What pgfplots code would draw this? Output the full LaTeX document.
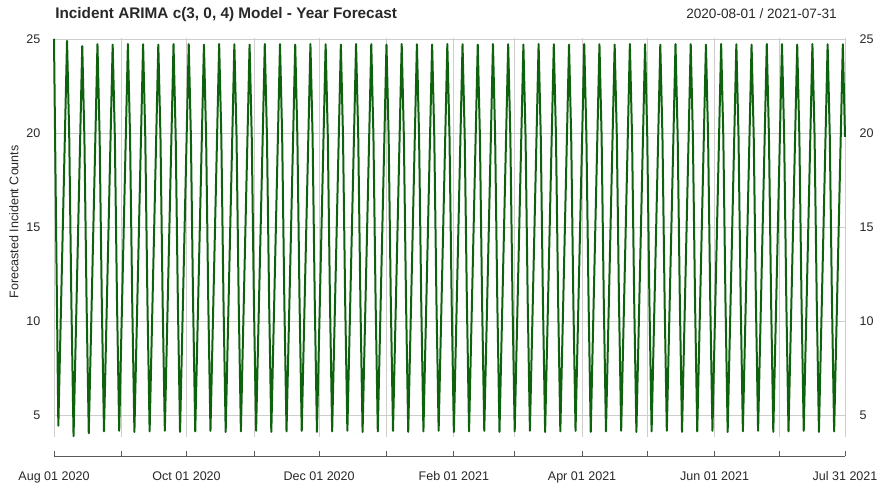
\documentclass[border=0pt]{standalone}
\usepackage{pgfplots}
\pgfplotsset{compat=1.18}
\usepackage{fontspec}
\setmainfont{Liberation Sans}
\definecolor{linegreen}{RGB}{14,98,14}
\definecolor{gridc}{RGB}{208,206,204}
\definecolor{txt}{RGB}{40,40,40}
\definecolor{axc}{RGB}{90,90,90}
\begin{document}
\begin{tikzpicture}
\pgfplotsset{
  base/.style={
    scale only axis, width=593.25pt, height=299.25pt,
    xmin=0, xmax=364, ymin=3.85, ymax=25.05,
    ytick={5,10,15,20,25},
    /pgf/number format/assume math mode=true,
    tick label style={font=\fontsize{9.4}{11}\selectfont, text=txt},
    y axis line style={draw=none}, ytick style={draw=none},
  }
}
\begin{axis}[base,
  clip=false,
  axis x line=bottom, axis y line=left,
  x axis line style={-, draw=axc, line width=0.6pt},
  axis x line shift=14.25pt,
  xtick={0,31,61,92,122,153,184,212,243,273,304,334,364},
  xticklabels={Aug 01 2020,,Oct 01 2020,,Dec 01 2020,,Feb 01 2021,,Apr 01 2021,,Jun 01 2021,,Jul 31 2021},
  xtick align=inside, major tick length=3.4pt,
  xtick style={draw=axc, line width=0.6pt},
  xticklabel style={yshift=-8pt},
  yticklabel style={xshift=-5pt},
  xmajorgrids, ymajorgrids, grid style={gridc, line width=0.6pt},
  ylabel={Forecasted Incident Counts},
  ylabel style={at={(axis description cs:-0.0506,0.539)}, anchor=center, font=\fontsize{9.4}{11}\selectfont, text=txt},
]
\addplot[linegreen, line width=1.5pt, line join=round, no marks]
  table[row sep=\\, header=false, x expr=\coordindex, y index=0] {
25.00\\ 14.60\\ 4.45\\ 9.60\\ 14.70\\ 19.80\\
24.90\\ 19.90\\ 11.00\\ 3.90\\ 9.10\\ 14.30\\ 19.50\\
24.62\\ 19.70\\ 10.90\\ 4.05\\ 9.20\\ 14.40\\ 19.55\\
24.72\\ 19.80\\ 11.00\\ 4.15\\ 9.30\\ 14.45\\ 19.60\\
24.70\\ 19.78\\ 10.98\\ 4.18\\ 9.32\\ 14.46\\ 19.59\\
24.73\\ 19.81\\ 11.02\\ 4.12\\ 9.28\\ 14.44\\ 19.61\\
24.72\\ 19.80\\ 11.00\\ 4.15\\ 9.30\\ 14.45\\ 19.60\\
24.70\\ 19.78\\ 10.98\\ 4.18\\ 9.32\\ 14.46\\ 19.59\\
24.73\\ 19.81\\ 11.02\\ 4.12\\ 9.28\\ 14.44\\ 19.61\\
24.72\\ 19.80\\ 11.00\\ 4.15\\ 9.30\\ 14.45\\ 19.60\\
24.70\\ 19.78\\ 10.98\\ 4.18\\ 9.32\\ 14.46\\ 19.59\\
24.73\\ 19.81\\ 11.02\\ 4.12\\ 9.28\\ 14.44\\ 19.61\\
24.72\\ 19.80\\ 11.00\\ 4.15\\ 9.30\\ 14.45\\ 19.60\\
24.70\\ 19.78\\ 10.98\\ 4.18\\ 9.32\\ 14.46\\ 19.59\\
24.73\\ 19.81\\ 11.02\\ 4.12\\ 9.28\\ 14.44\\ 19.61\\
24.72\\ 19.80\\ 11.00\\ 4.15\\ 9.30\\ 14.45\\ 19.60\\
24.70\\ 19.78\\ 10.98\\ 4.18\\ 9.32\\ 14.46\\ 19.59\\
24.73\\ 19.81\\ 11.02\\ 4.12\\ 9.28\\ 14.44\\ 19.61\\
24.72\\ 19.80\\ 11.00\\ 4.15\\ 9.30\\ 14.45\\ 19.60\\
24.70\\ 19.78\\ 10.98\\ 4.18\\ 9.32\\ 14.46\\ 19.59\\
24.73\\ 19.81\\ 11.02\\ 4.12\\ 9.28\\ 14.44\\ 19.61\\
24.72\\ 19.80\\ 11.00\\ 4.15\\ 9.30\\ 14.45\\ 19.60\\
24.70\\ 19.78\\ 10.98\\ 4.18\\ 9.32\\ 14.46\\ 19.59\\
24.73\\ 19.81\\ 11.02\\ 4.12\\ 9.28\\ 14.44\\ 19.61\\
24.72\\ 19.80\\ 11.00\\ 4.15\\ 9.30\\ 14.45\\ 19.60\\
24.70\\ 19.78\\ 10.98\\ 4.18\\ 9.32\\ 14.46\\ 19.59\\
24.73\\ 19.81\\ 11.02\\ 4.12\\ 9.28\\ 14.44\\ 19.61\\
24.72\\ 19.80\\ 11.00\\ 4.15\\ 9.30\\ 14.45\\ 19.60\\
24.70\\ 19.78\\ 10.98\\ 4.18\\ 9.32\\ 14.46\\ 19.59\\
24.73\\ 19.81\\ 11.02\\ 4.12\\ 9.28\\ 14.44\\ 19.61\\
24.72\\ 19.80\\ 11.00\\ 4.15\\ 9.30\\ 14.45\\ 19.60\\
24.70\\ 19.78\\ 10.98\\ 4.18\\ 9.32\\ 14.46\\ 19.59\\
24.73\\ 19.81\\ 11.02\\ 4.12\\ 9.28\\ 14.44\\ 19.61\\
24.72\\ 19.80\\ 11.00\\ 4.15\\ 9.30\\ 14.45\\ 19.60\\
24.70\\ 19.78\\ 10.98\\ 4.18\\ 9.32\\ 14.46\\ 19.59\\
24.73\\ 19.81\\ 11.02\\ 4.12\\ 9.28\\ 14.44\\ 19.61\\
24.72\\ 19.80\\ 11.00\\ 4.15\\ 9.30\\ 14.45\\ 19.60\\
24.70\\ 19.78\\ 10.98\\ 4.18\\ 9.32\\ 14.46\\ 19.59\\
24.73\\ 19.81\\ 11.02\\ 4.12\\ 9.28\\ 14.44\\ 19.61\\
24.72\\ 19.80\\ 11.00\\ 4.15\\ 9.30\\ 14.45\\ 19.60\\
24.70\\ 19.78\\ 10.98\\ 4.18\\ 9.32\\ 14.46\\ 19.59\\
24.73\\ 19.81\\ 11.02\\ 4.12\\ 9.28\\ 14.44\\ 19.61\\
24.72\\ 19.80\\ 11.00\\ 4.15\\ 9.30\\ 14.45\\ 19.60\\
24.70\\ 19.78\\ 10.98\\ 4.18\\ 9.32\\ 14.46\\ 19.59\\
24.73\\ 19.81\\ 11.02\\ 4.12\\ 9.28\\ 14.44\\ 19.61\\
24.72\\ 19.80\\ 11.00\\ 4.15\\ 9.30\\ 14.45\\ 19.60\\
24.70\\ 19.78\\ 10.98\\ 4.18\\ 9.32\\ 14.46\\ 19.59\\
24.73\\ 19.81\\ 11.02\\ 4.12\\ 9.28\\ 14.44\\ 19.61\\
24.72\\ 19.80\\ 11.00\\ 4.15\\ 9.30\\ 14.45\\ 19.60\\
24.70\\ 19.78\\ 10.98\\ 4.18\\ 9.32\\ 14.46\\ 19.59\\
24.73\\ 19.81\\ 11.02\\ 4.12\\ 9.28\\ 14.44\\ 19.61\\
24.72\\ 19.80\\ 11.00\\ 4.15\\ 9.30\\ 14.45\\ 19.60\\
24.72\\ 19.80\\
};
\end{axis}
\begin{axis}[base,
  axis y line*=right, axis x line=none,
  yticklabel pos=right,
  yticklabel style={xshift=7.5pt},
]
\end{axis}
\node[anchor=base west, inner sep=0pt, font=\fontsize{11.5}{13}\selectfont\bfseries, text=txt] at (0.75pt,313.9pt) {Incident ARIMA c(3, 0, 4) Model - Year Forecast};
\node[anchor=base east, inner sep=0pt, font=\fontsize{10.2}{12}\selectfont, text=txt] at (587.25pt,313.9pt) {2020-08-01 / 2021-07-31};
\pgfresetboundingbox
\path[use as bounding box] (-40.5pt,-37.5pt) rectangle (620.25pt,327.75pt);
\end{tikzpicture}
\end{document}
